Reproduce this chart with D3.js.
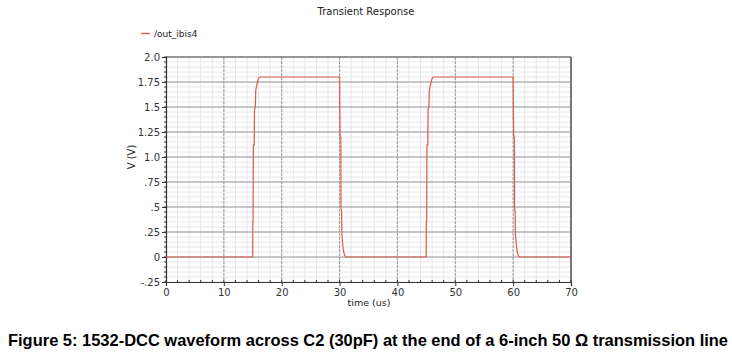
<!DOCTYPE html>
<html>
<head>
<meta charset="utf-8">
<script src="https://cdn.jsdelivr.net/npm/d3@7"></script>
<style>
  body { margin: 0; background: #fff; }
  svg text { font-family: "DejaVu Sans", Verdana, sans-serif; }
</style>
</head>
<body>
<svg id="chart" width="732" height="359"></svg>
<script>
// waveform samples (time in us, volts)
const timeUs = [0, 14.98, 15.0, 15.05, 15.1, 15.25, 15.3, 15.45, 15.5, 15.7, 15.9, 16.1, 16.3,
  30.0, 30.05, 30.1, 30.22, 30.25, 30.35, 30.4, 30.55, 30.7, 30.9, 31.1,
  44.98, 45.0, 45.05, 45.1, 45.25, 45.3, 45.45, 45.5, 45.7, 45.9, 46.1, 46.3,
  60.0, 60.05, 60.1, 60.22, 60.25, 60.35, 60.4, 60.55, 60.7, 60.9, 61.1, 70];
const volts = [0, 0, 0.35, 0.35, 1.12, 1.12, 1.48, 1.5, 1.66, 1.72, 1.77, 1.795, 1.8,
  1.8, 1.4, 1.2, 1.2, 0.49, 0.45, 0.22, 0.12, 0.05, 0.015, 0,
  0, 0.35, 0.35, 1.12, 1.12, 1.48, 1.5, 1.66, 1.72, 1.77, 1.795, 1.8,
  1.8, 1.4, 1.2, 1.2, 0.49, 0.45, 0.22, 0.12, 0.05, 0.015, 0, 0];
const yTicks = [2.0, 1.75, 1.5, 1.25, 1.0, 0.75, 0.5, 0.25, 0, -0.25];
const yTickLabels = ["2.0", "1.75", "1.5", "1.25", "1.0", ".75", ".5", ".25", "0", "-.25"];
const xTicks = [0, 10, 20, 30, 40, 50, 60, 70];
const seriesName = "/out_ibis4";

const svg = d3.select("#chart");
const pL = 166, pR = 571, pT = 57, pB = 282;
const x = d3.scaleLinear().domain([0, 70]).range([pL, pR]);
const y = d3.scaleLinear().domain([-0.25, 2.0]).range([pB, pT]);

const xMinor = d3.range(0, 70.01, 2);
const yMinor = d3.range(-0.25, 2.001, 0.05);

// minor grid
svg.append("g").selectAll("line").data(xMinor).join("line")
  .attr("x1", d => x(d)).attr("x2", d => x(d)).attr("y1", pT).attr("y2", pB)
  .attr("stroke", "#e6e6e6").attr("stroke-width", 1);
svg.append("g").selectAll("line").data(yMinor).join("line")
  .attr("x1", pL).attr("x2", pR).attr("y1", d => y(d)).attr("y2", d => y(d))
  .attr("stroke", "#e6e6e6").attr("stroke-width", 1);

// major grid
svg.append("g").selectAll("line").data(xTicks.slice(1, -1)).join("line")
  .attr("x1", d => x(d)).attr("x2", d => x(d)).attr("y1", pT).attr("y2", pB)
  .attr("stroke", "#9a9a9a").attr("stroke-width", 1).attr("stroke-dasharray", "3,1");
svg.append("g").selectAll("line").data(yTicks.slice(1, -1)).join("line")
  .attr("x1", pL).attr("x2", pR).attr("y1", d => y(d)).attr("y2", d => y(d))
  .attr("stroke", "#9a9a9a").attr("stroke-width", 1);

// frame
svg.append("line").attr("x1", pL).attr("x2", pR).attr("y1", pT).attr("y2", pT)
  .attr("stroke", "#777").attr("stroke-width", 1.5);
svg.append("line").attr("x1", pR).attr("x2", pR).attr("y1", pT).attr("y2", pB)
  .attr("stroke", "#777").attr("stroke-width", 2);

// axes
const yAxis = svg.append("g").attr("transform", `translate(${pL},0)`)
  .call(d3.axisLeft(y).tickValues(yTicks).tickFormat((d, i) => yTickLabels[i]).tickSize(4).tickPadding(2));
const xAxis = svg.append("g").attr("transform", `translate(0,${pB})`)
  .call(d3.axisBottom(x).tickValues(xTicks).tickSize(4).tickPadding(3));
[yAxis, xAxis].forEach(a => {
  a.select(".domain").attr("stroke", "#333").attr("stroke-width", 1.2);
  a.selectAll(".tick line").attr("stroke", "#333");
  a.selectAll("text").attr("fill", "#333").style("font-size", "10px").style("font-family", "'DejaVu Sans', sans-serif");
});
// minor ticks
svg.append("g").selectAll("line").data(yMinor).join("line")
  .attr("x1", pL - 2).attr("x2", pL + 1).attr("y1", d => y(d)).attr("y2", d => y(d))
  .attr("stroke", "#333");
svg.append("g").selectAll("line").data(xMinor).join("line")
  .attr("x1", d => x(d)).attr("x2", d => x(d)).attr("y1", pB - 2).attr("y2", pB + 1)
  .attr("stroke", "#333");

// waveform
const pts = timeUs.map((t, i) => [t, volts[i]]);
svg.append("path").datum(pts)
  .attr("fill", "none").attr("stroke", "#dc5a4c").attr("stroke-width", 1.2)
  .attr("d", d3.line().x(d => x(d[0])).y(d => y(d[1])));

// titles
svg.append("text").attr("x", 366).attr("y", 15).attr("text-anchor", "middle")
  .attr("fill", "#222").style("font-size", "10px").text("Transient Response");
svg.append("line").attr("x1", 141).attr("x2", 150).attr("y1", 33.5).attr("y2", 33.5)
  .attr("stroke", "#dc5a4c").attr("stroke-width", 1.3);
svg.append("text").attr("x", 154).attr("y", 37).attr("fill", "#222")
  .style("font-size", "9px").text(seriesName);
svg.append("text").attr("transform", "translate(135,157) rotate(-90)").attr("text-anchor", "middle")
  .attr("fill", "#222").style("font-size", "10px").text("V (V)");
svg.append("text").attr("x", 369).attr("y", 306).attr("text-anchor", "middle")
  .attr("fill", "#222").style("font-size", "9.5px").text("time (us)");

svg.append("text").attr("x", 8).attr("y", 346)
  .attr("textLength", 720).attr("lengthAdjust", "spacingAndGlyphs")
  .style("font-family", "'Liberation Sans', Arial, sans-serif").style("font-weight", "bold")
  .style("font-size", "16.5px").attr("fill", "#000")
  .text("Figure 5: 1532-DCC waveform across C2 (30pF) at the end of a 6-inch 50 Ω transmission line");
</script>
</body>
</html>
